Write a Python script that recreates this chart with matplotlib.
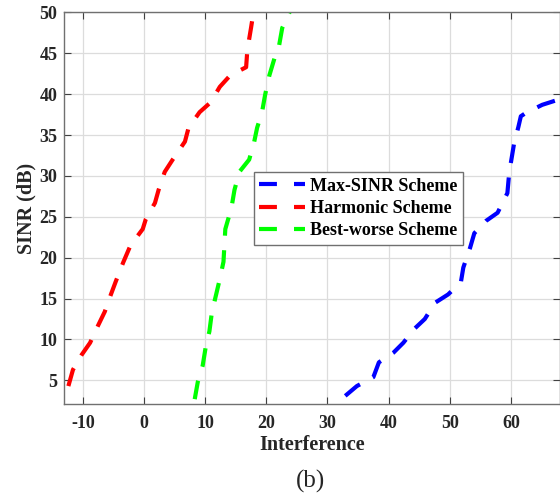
import matplotlib
matplotlib.use("Agg")
import matplotlib.pyplot as plt

# curves (Interference, SINR in dB)
harmonic_x = [-12.35, -11.6, -10.2, -8.8, -7.5, -6.4, -5.4, -4.6, -3.4, -2.2, -0.2, 0.3,
              1.8, 2.4, 3.4, 4.7, 6.7, 7.3, 9.1, 10.9, 12.4, 14.1, 16.7, 16.9, 17.5, 17.9]
harmonic_y = [4.3, 6.3, 8.1, 9.6, 11.7, 13.4, 15.5, 17.1, 19.4, 21.5, 23.5, 24.7,
              26.7, 28.3, 30.5, 32.0, 34.2, 35.9, 37.8, 39.0, 40.9, 42.3, 43.3, 45.4, 48.1, 50.0]

bestworse_x = [8.3, 8.8, 9.6, 10.1, 10.7, 11.1, 11.8, 12.4, 13.0, 13.3, 14.3, 14.8, 15.6,
               17.2, 18.0, 18.5, 19.3, 19.8, 20.5, 21.5, 22.1, 22.6, 23.8]
bestworse_y = [2.7, 4.8, 6.8, 9.1, 11.0, 13.3, 15.5, 17.4, 19.5, 23.5, 26.1, 28.3, 30.5,
               32.0, 34.1, 35.9, 37.8, 39.9, 42.3, 44.8, 46.0, 48.1, 50.0]

maxsinr_x = [32.9, 34.8, 37.5, 38.4, 40.8, 42.4, 44.2, 45.9, 47.6, 49.7, 51.8, 52.2, 53.3,
             54.0, 55.9, 57.8, 59.4, 59.7, 60.5, 61.2, 61.6, 62.4, 65.1, 67.6, 69.0]
maxsinr_y = [3.1, 4.3, 5.4, 7.2, 8.4, 9.6, 11.3, 12.5, 14.5, 15.5, 17.0, 18.8, 21.2,
             23.0, 24.5, 25.5, 27.9, 30.4, 34.0, 36.0, 37.3, 37.7, 38.7, 39.3, 39.5]

x_ticks = [-10, 0, 10, 20, 30, 40, 50, 60]
y_ticks = [5, 10, 15, 20, 25, 30, 35, 40, 45, 50]

plt.rcParams['font.family'] = ['Liberation Serif', 'DejaVu Serif']
plt.rcParams['axes.unicode_minus'] = False

fig = plt.figure(figsize=(5.6, 4.97), dpi=100)
ax = fig.add_axes([0.115, 0.187, 0.885, 0.788])

dash = (4.5, 3.5)
ax.plot(maxsinr_x, maxsinr_y, color='#0000ff', lw=3, dashes=dash, label='Max-SINR Scheme')
ax.plot(harmonic_x, harmonic_y, color='#ff0000', lw=3, dashes=dash, label='Harmonic Scheme')
ax.plot(bestworse_x, bestworse_y, color='#00ff00', lw=3, dashes=dash, label='Best-worse Scheme')

ax.set_xlim(-13, 68)
ax.set_ylim(2.1, 50)
ax.set_xticks(x_ticks)
ax.set_yticks(y_ticks)
ax.grid(True, color='#dcdcdc', linewidth=0.9)
ax.set_axisbelow(True)

for s in ax.spines.values():
    s.set_color('#707070')
    s.set_linewidth(1.0)
ax.tick_params(axis='both', direction='in', top=True, right=True, length=5, color='#404040',
               labelsize=13)
ax.tick_params(axis='x', pad=8)
ax.tick_params(axis='y', pad=5)
for lab in ax.get_xticklabels() + ax.get_yticklabels():
    lab.set_fontweight('bold')
    lab.set_color('#262626')

ax.set_xlabel('Interference', fontsize=14.5, fontweight='bold', color='#262626', labelpad=2)
ax.set_ylabel('SINR (dB)', fontsize=14.5, fontweight='bold', color='#262626', labelpad=2)

leg = ax.legend(loc='upper left', bbox_to_anchor=(0.3825, 0.592), prop={'weight': 'bold', 'size': 13},
                handlelength=2.5, handletextpad=0.3, borderpad=0.3, labelspacing=0.3,
                borderaxespad=0, fancybox=False, framealpha=1, edgecolor='#707070')
leg.get_frame().set_linewidth(1.0)
for h in leg.get_lines():
    h.set_dashes((4.3, 4.1))

fig.text(0.554, 0.008, '(b)', fontsize=18, ha='center', va='bottom', color='#262626')

fig.savefig('out.png', dpi=100)
